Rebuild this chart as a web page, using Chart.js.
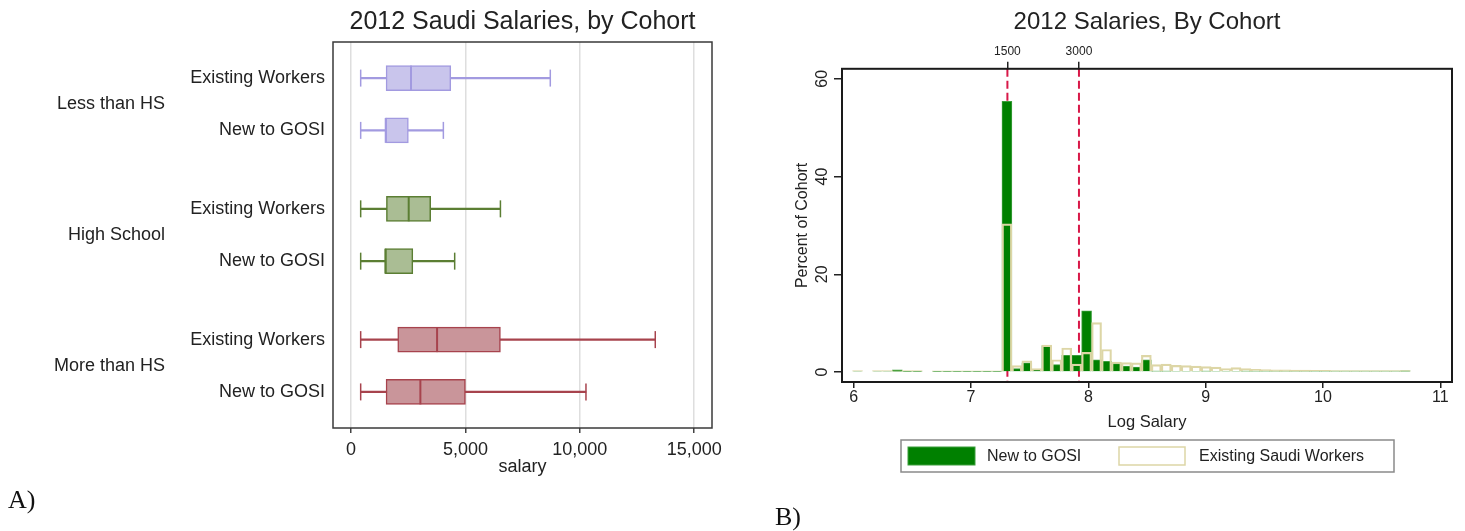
<!DOCTYPE html>
<html>
<head>
<meta charset="utf-8">
<script src="https://cdn.jsdelivr.net/npm/chart.js@4.4.1/dist/chart.umd.min.js"></script>
<style>
  html, body { margin: 0; padding: 0; background: #fff; }
  body { width: 1465px; height: 531px; position: relative; overflow: hidden; }
  #boxChart { position: absolute; left: 0; top: 0; }
  #histChart { position: absolute; left: 740px; top: 0; }
  .panel { position: absolute; font-family: "Liberation Serif", "Times New Roman", serif; font-size: 26px; color: #111; line-height: 30px; }
</style>
</head>
<body>
<canvas id="boxChart" width="740" height="531"></canvas>
<canvas id="histChart" width="725" height="531"></canvas>
<div class="panel" style="left:8px; top:485px;">A)</div>
<div class="panel" style="left:775px; top:502px;">B)</div>
<script>
// ---- panel A: salary box plots ----
const groups = ['Less than HS', 'High School', 'More than HS'];
const cohorts = ['Existing Workers', 'New to GOSI'];
// one entry per row: Less/Existing, Less/New, HS/Existing, HS/New, More/Existing, More/New
const whiskLow = [420, 420, 420, 420, 420, 420];
const q1 = [1530, 1515, 1545, 1500, 2040, 1530];
const median = [2620, 1515, 2520, 1500, 3760, 3030];
const q3 = [4360, 2505, 3480, 2700, 6530, 5000];
const whiskHigh = [8710, 4035, 6530, 4530, 13300, 10270];
const salaryTicks = [0, 5000, 10000, 15000];

// ---- panel B: log salary histogram ----
const binStart = 5.99;
const binWidth = 0.0849;
const newToGosi = [
  0.15, 0, 0.15, 0.15, 0.45, 0.1, 0.1, 0, 0.1, 0.1, 0.1, 0.1, 0.1, 0.1, 0.1,
  55.4, 0.7, 1.85, 0.55, 5.4, 1.5, 3.4, 3.4, 12.5, 2.5, 2.2, 1.7, 1.2, 1.0, 2.5,
  0.2, 0.2, 0.15, 0.15, 0.15, 0.2, 0.15, 0.15, 0.15, 0.2, 0.2, 0.2, 0.2, 0.2, 0.2,
  0.2, 0.2, 0.2, 0.2, 0.2, 0.2, 0.2, 0.2, 0.2, 0.2, 0.25
];
const existingWorkers = [
  0.3, 0, 0.3, 0.3, 0.25, 0.3, 0.3, 0, 0.25, 0.25, 0.25, 0.25, 0.25, 0.25, 0.25,
  30.3, 1.3, 2.3, 0.7, 5.5, 2.5, 4.9, 1.6, 4.0, 10.1, 4.6, 2.05, 1.9, 1.85, 3.4,
  1.5, 1.6, 1.35, 1.3, 1.2, 1.1, 1.0, 0.7, 0.9, 0.7, 0.55, 0.5, 0.45, 0.45, 0.4,
  0.4, 0.35, 0.35, 0.3, 0.3, 0.3, 0.3, 0.3, 0.3, 0.3, 0.3
];
const refLines = [7.31, 7.92];
const refLabels = ['1500', '3000'];

Chart.defaults.font.family = '"Liberation Sans", Arial, Helvetica, sans-serif';
Chart.defaults.color = '#222';
Chart.defaults.animation = false;

const groupFill = ['#c9c5ec', '#aabd94', '#c9959a'];
const groupLine = ['#a29ae0', '#5b7e33', '#a7434d'];

// rows of the box plot, with a wider gap between education groups
const rows = [];
groups.forEach((g, gi) => {
  cohorts.forEach((c, ci) => {
    rows.push({ group: gi, label: c, pos: gi * 2.5 + ci });
  });
});
const rowFill = rows.map((r) => groupFill[r.group]);
const rowLine = rows.map((r) => groupLine[r.group]);

const noPad = (s) => {
  s.paddingLeft = 0;
  s.paddingRight = 0;
  s.paddingTop = 0;
  s.paddingBottom = 0;
};

// draws the frame round the plot area
const framePlugin = (color, width) => ({
  id: 'frame',
  afterDatasetsDraw(chart) {
    const a = chart.chartArea;
    const ctx = chart.ctx;
    ctx.save();
    ctx.strokeStyle = color;
    ctx.lineWidth = width;
    ctx.strokeRect(a.left, a.top, a.right - a.left, a.bottom - a.top);
    ctx.restore();
  },
});

const groupLabels = {
  id: 'groupLabels',
  afterDraw(chart) {
    const ctx = chart.ctx;
    const y = chart.scales.y;
    ctx.save();
    ctx.font = '18px "Liberation Sans", Arial, sans-serif';
    ctx.fillStyle = '#222';
    ctx.textAlign = 'right';
    ctx.textBaseline = 'middle';
    groups.forEach((g, gi) => {
      ctx.fillText(g, 165, y.getPixelForValue(gi * 2.5 + 0.5));
    });
    ctx.restore();
  },
};

new Chart(document.getElementById('boxChart'), {
  type: 'bar',
  data: {
    datasets: [
      {
        type: 'bar',
        indexAxis: 'y',
        data: rows.map((r, i) => ({ y: r.pos, x: [whiskLow[i], whiskHigh[i]] })),
        backgroundColor: rowLine,
        borderWidth: 0,
        barThickness: 1.5,
        grouped: false,
        order: 3,
      },
      {
        type: 'bar',
        indexAxis: 'y',
        data: rows.map((r, i) => ({ y: r.pos, x: [q1[i], q3[i]] })),
        backgroundColor: rowFill,
        borderColor: rowLine,
        borderWidth: 1.5,
        borderSkipped: false,
        barThickness: 25,
        grouped: false,
        order: 2,
      },
      {
        type: 'scatter',
        data: rows.flatMap((r, i) => [{ x: whiskLow[i], y: r.pos }, { x: whiskHigh[i], y: r.pos }]),
        pointStyle: 'line',
        rotation: 90,
        radius: 8.5,
        borderWidth: 1.5,
        borderColor: rows.flatMap((r) => [groupLine[r.group], groupLine[r.group]]),
        showLine: false,
        order: 1,
      },
      {
        type: 'scatter',
        data: rows.map((r, i) => ({ x: median[i], y: r.pos })),
        pointStyle: 'line',
        rotation: 90,
        radius: 12.5,
        borderWidth: 2,
        borderColor: rowLine,
        showLine: false,
        order: 1,
      },
    ],
  },
  options: {
    responsive: false,
    layout: { padding: { top: 0, right: 28, left: 0, bottom: 0 } },
    plugins: {
      legend: { display: false },
      tooltip: { enabled: false },
      title: {
        display: true,
        text: '2012 Saudi Salaries, by Cohort',
        fullSize: false,
        font: { size: 25, weight: 'normal' },
        color: '#222',
        padding: { top: 7, bottom: 5 },
      },
    },
    scales: {
      x: {
        type: 'linear',
        offset: false,
        min: -790,
        max: 15780,
        afterBuildTicks: (s) => { s.ticks = salaryTicks.map((v) => ({ value: v })); },
        ticks: { font: { size: 18 }, color: '#222', padding: 6 },
        grid: { color: '#dedede', lineWidth: 1.5, tickColor: '#444', tickLength: 5, offset: false },
        border: { display: false },
        title: { display: true, text: 'salary', font: { size: 18 }, color: '#222', padding: { top: 0, bottom: 53 } },
        afterFit: (s) => { s.height = 103; noPad(s); },
      },
      y: {
        type: 'linear',
        offset: false,
        reverse: true,
        min: -0.69,
        max: 6.69,
        afterBuildTicks: (s) => { s.ticks = rows.map((r) => ({ value: r.pos })); },
        ticks: {
          callback: (v) => rows.find((r) => r.pos === v).label,
          font: { size: 18 },
          color: '#222',
          padding: 8,
        },
        grid: { display: false, drawTicks: false, offset: false },
        border: { display: false },
        afterFit: (s) => { s.width = 333; noPad(s); },
      },
    },
  },
  plugins: [framePlugin('#3a3a3a', 1.5), groupLabels],
});

// ---- panel B chart ----
const binCenters = newToGosi.map((_, k) => binStart + (k + 0.5) * binWidth);

const refLinePlugin = {
  id: 'refLines',
  beforeDatasetsDraw(chart) {
    const ctx = chart.ctx;
    const a = chart.chartArea;
    const x = chart.scales.x;
    ctx.save();
    ctx.strokeStyle = '#d81848';
    ctx.lineWidth = 2;
    ctx.setLineDash([8, 4]);
    refLines.forEach((v) => {
      const px = x.getPixelForValue(v);
      ctx.beginPath();
      ctx.moveTo(px, a.top);
      ctx.lineTo(px, a.bottom);
      ctx.stroke();
    });
    ctx.restore();
  },
};

// y tick labels are rotated like the original
const rotatedTicks = {
  id: 'rotatedTicks',
  afterDraw(chart) {
    const ctx = chart.ctx;
    const y = chart.scales.y;
    ctx.save();
    ctx.font = '16px "Liberation Sans", Arial, sans-serif';
    ctx.fillStyle = '#222';
    ctx.textAlign = 'center';
    ctx.textBaseline = 'middle';
    y.ticks.forEach((t) => {
      ctx.save();
      ctx.translate(83, y.getPixelForValue(t.value));
      ctx.rotate(-Math.PI / 2);
      ctx.fillText(String(t.value), 0, 0);
      ctx.restore();
    });
    ctx.restore();
  },
};

const boxedLegend = {
  id: 'boxedLegend',
  afterDraw(chart) {
    const ctx = chart.ctx;
    const a = chart.chartArea;
    const cx = (a.left + a.right) / 2;
    const ds = chart.data.datasets;
    ctx.save();
    ctx.strokeStyle = '#8a8a8a';
    ctx.lineWidth = 1.5;
    ctx.strokeRect(cx - 246, 440, 493, 32);
    ctx.fillStyle = ds[0].backgroundColor;
    ctx.fillRect(cx - 239, 447, 67, 18);
    ctx.strokeStyle = ds[0].borderColor;
    ctx.lineWidth = 1;
    ctx.strokeRect(cx - 239, 447, 67, 18);
    ctx.strokeStyle = ds[1].borderColor;
    ctx.lineWidth = 1.5;
    ctx.strokeRect(cx - 28, 447, 66, 18);
    ctx.font = '16px "Liberation Sans", Arial, sans-serif';
    ctx.fillStyle = '#222';
    ctx.textAlign = 'left';
    ctx.textBaseline = 'middle';
    ctx.fillText(ds[0].label, cx - 160, 457);
    ctx.fillText(ds[1].label, cx + 52, 457);
    ctx.restore();
  },
};

new Chart(document.getElementById('histChart'), {
  type: 'bar',
  data: {
    datasets: [
      {
        label: 'New to GOSI',
        data: binCenters.map((x, k) => ({ x: x, y: newToGosi[k] })),
        backgroundColor: '#008000',
        borderColor: '#3c9e3c',
        borderWidth: 1,
        barPercentage: 1,
        categoryPercentage: 1,
        grouped: false,
        order: 2,
      },
      {
        label: 'Existing Saudi Workers',
        data: binCenters.map((x, k) => ({ x: x, y: existingWorkers[k] })),
        backgroundColor: 'rgba(0,0,0,0)',
        borderColor: '#ddd6a6',
        borderWidth: 1.5,
        barPercentage: 1,
        categoryPercentage: 1,
        grouped: false,
        order: 1,
      },
    ],
  },
  options: {
    responsive: false,
    layout: { padding: { top: 0, right: 13, left: 0, bottom: 0 } },
    plugins: {
      legend: { display: false },
      tooltip: { enabled: false },
      title: {
        display: true,
        text: '2012 Salaries, By Cohort',
        fullSize: false,
        font: { size: 24, weight: 'normal' },
        color: '#222',
        padding: { top: 8, bottom: 3 },
      },
    },
    scales: {
      x: {
        type: 'linear',
        position: 'bottom',
        offset: false,
        min: 5.9,
        max: 11.1,
        ticks: { stepSize: 1, includeBounds: false, font: { size: 16 }, color: '#222', padding: 0 },
        grid: { drawOnChartArea: false, tickLength: 6, tickColor: '#222', lineWidth: 1.5, offset: false },
        border: { display: false },
        title: { display: true, text: 'Log Salary', font: { size: 16.5 }, color: '#222', padding: { top: 0, bottom: 99 } },
        afterFit: (s) => { s.height = 149; noPad(s); },
      },
      x2: {
        type: 'linear',
        position: 'top',
        offset: false,
        min: 5.9,
        max: 11.1,
        afterBuildTicks: (s) => { s.ticks = refLines.map((v) => ({ value: v })); },
        ticks: { callback: (v) => refLabels[refLines.indexOf(v)], font: { size: 12 }, color: '#222', padding: 3 },
        grid: { drawOnChartArea: false, tickLength: 7, tickColor: '#222', lineWidth: 1.5, offset: false },
        border: { display: false },
        afterFit: (s) => { s.height = 29; noPad(s); },
      },
      y: {
        type: 'linear',
        min: -2.05,
        max: 62.05,
        ticks: { stepSize: 20, includeBounds: false, display: false },
        grid: { drawOnChartArea: false, tickLength: 8, tickColor: '#222', lineWidth: 1.5 },
        border: { display: false },
        title: { display: true, text: 'Percent of Cohort', font: { size: 16 }, color: '#222', padding: { top: 53, bottom: 0 } },
        afterFit: (s) => { s.width = 102; noPad(s); },
      },
    },
  },
  plugins: [refLinePlugin, framePlugin('#1a1a1a', 2), rotatedTicks, boxedLegend],
});
</script>
</body>
</html>
